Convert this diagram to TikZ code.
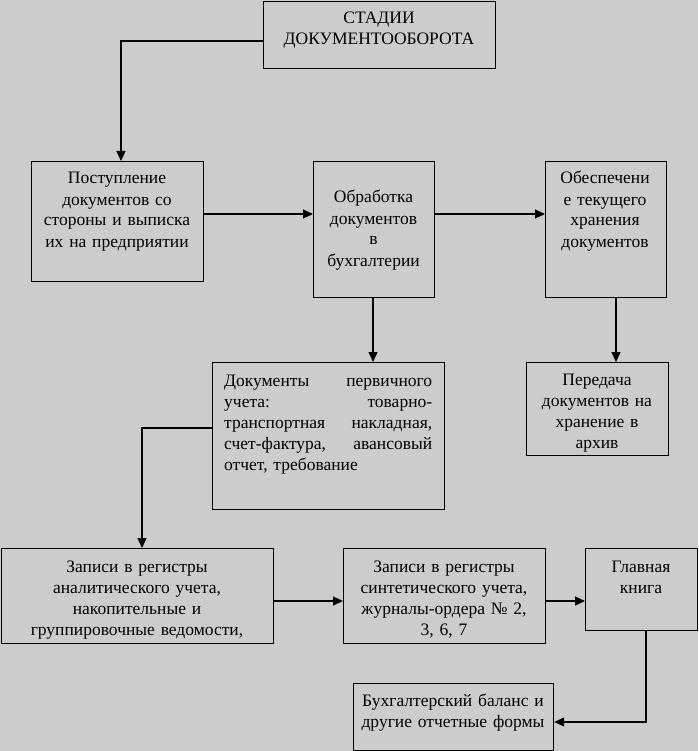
\documentclass[tikz,border=0pt]{standalone}
\usepackage{fontspec}
\setmainfont{Liberation Serif}
\usetikzlibrary{arrows.meta}
\definecolor{bg}{RGB}{204,204,204}
\begin{document}
\begin{tikzpicture}[x=1pt,y=-1pt,
  box/.style 2 args={draw, line width=1.2pt, fill=bg, inner sep=0pt, anchor=north west, minimum width=#1, minimum height=#2},
  txt/.style={font=\fontsize{17.5}{21}\selectfont, text width=260pt, align=center, inner sep=0pt, anchor=base},
  arr/.style={line width=1.2pt, -{Triangle[length=10pt,width=9pt]}}]
\fill[bg] (0,0) rectangle (698,751);
\useasboundingbox (0,0) rectangle (698,751);
% boxes
\node[box={232pt}{67pt}] (title) at (263,1) {};
\node[box={172pt}{120pt}] (b1) at (31,161) {};
\node[box={121pt}{136pt}] (b2) at (313,161) {};
\node[box={121pt}{136pt}] (b3) at (545,161) {};
\node[box={232pt}{147pt}] (b4) at (212,362) {};
\node[box={142pt}{93pt}] (b5) at (526,362) {};
\node[box={272pt}{95pt}] (b6) at (1,548) {};
\node[box={202pt}{95pt}] (b7) at (343,548) {};
\node[box={112pt}{82pt}] (b8) at (585,548) {};
\node[box={200pt}{67pt}] (b9) at (353,683) {};
% texts
\node[txt] (t0) at (379,24) {СТАДИИ\\ДОКУМЕНТООБОРОТА};
\node[txt] (t1) at (117,184) {Поступление\\документов со\\стороны и выписка\\их на предприятии};
\node[txt] (t2) at (373.5,203) {Обработка\\документов\\в\\бухгалтерии};
\node[txt] (t3) at (605,184) {Обеспечени\\е текущего\\хранения\\документов};
\node[txt, anchor=base west, text width=208pt, align=left] (t4) at (224,386)
  {\makebox[208pt]{Документы\hfill первичного}\\
   \makebox[208pt]{учета:\hfill товарно-}\\
   \makebox[208pt]{транспортная\hfill накладная,}\\
   \makebox[208pt]{счет-фактура,\hfill авансовый}\\
   отчет, требование};
\node[txt] (t5) at (597,385) {Передача\\документов на\\хранение в\\архив};
\node[txt] (t6) at (137,572) {Записи в регистры\\аналитического учета,\\накопительные и\\группировочные ведомости,};
\node[txt] (t7) at (444,572) {Записи в регистры\\синтетического учета,\\журналы-ордера № 2,\\3, 6, 7};
\node[txt] (t8) at (641,572) {Главная\\книга};
\node[txt] (t9) at (453,706) {Бухгалтерский баланс и\\другие отчетные формы};
% connectors
\draw[arr] (title.west |- 0,41) -| (b1.north -| 121,0);
\draw[arr] (b1.east |- 0,214) -- (b2.west |- 0,214);
\draw[arr] (b2.east |- 0,214) -- (b3.west |- 0,214);
\draw[arr] (b2.south -| 373,0) -- (b4.north -| 373,0);
\draw[arr] (b3.south -| 616,0) -- (b5.north -| 616,0);
\draw[arr] (b4.west |- 0,428) -| (b6.north -| 142,0);
\draw[arr] (b6.east |- 0,601) -- (b7.west |- 0,601);
\draw[arr] (b7.east |- 0,601) -- (b8.west |- 0,601);
\draw[arr] (b8.south -| 646,0) |- (b9.east |- 0,722);
\end{tikzpicture}
\end{document}
